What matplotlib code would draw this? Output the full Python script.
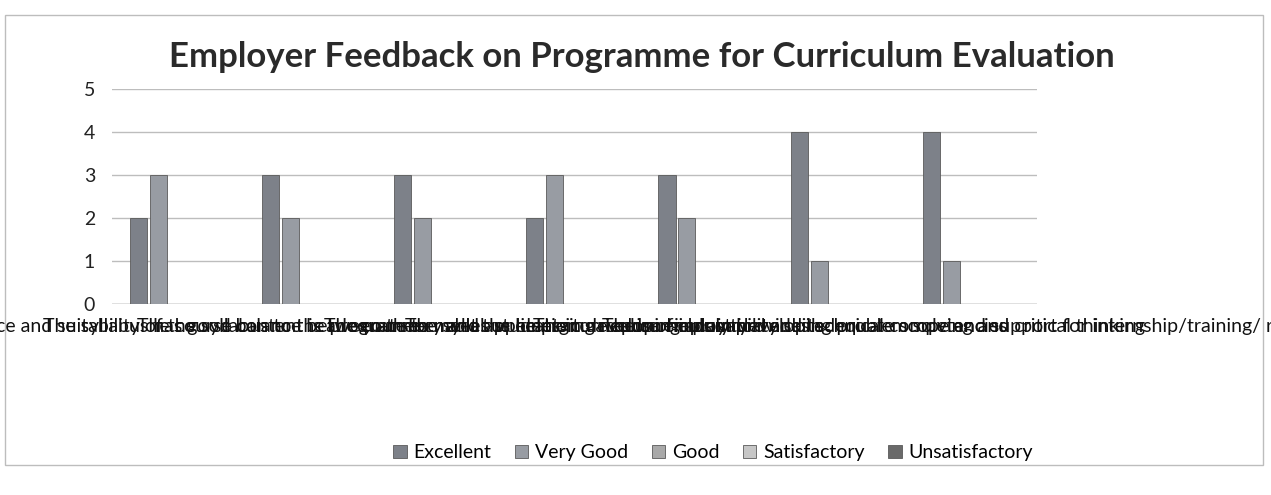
import matplotlib
matplotlib.use("Agg")
import matplotlib.pyplot as plt
import numpy as np
from matplotlib.patches import Rectangle

categories = [
    "Relevance and suitability of the syllabus to the programme",
    "The syllabus has good balance between theory and application",
    "The course content is adequate to meet the emerging needs of industry",
    "The course enables students to acquire employability skills",
    "The syllabus helps in developing analytical and technical competencies",
    "The curriculum helps in developing problem solving and critical thinking",
    "The curriculum provides adequate scope and support for internship/training/ research",
]
series_names = ["Excellent", "Very Good", "Good", "Satisfactory", "Unsatisfactory"]
excellent = [2, 3, 3, 2, 3, 4, 4]
very_good = [3, 2, 2, 3, 2, 1, 1]
good = [0, 0, 0, 0, 0, 0, 0]
satisfactory = [0, 0, 0, 0, 0, 0, 0]
unsatisfactory = [0, 0, 0, 0, 0, 0, 0]
yticks = [0, 1, 2, 3, 4, 5]
title = "Employer Feedback on Programme for Curriculum Evaluation"

colors = ["#7d8189", "#989ca3", "#a9a9a9", "#c6c6c6", "#6a6a6a"]
values = [excellent, very_good, good, satisfactory, unsatisfactory]

plt.rcParams['font.family'] = ['Lato', 'DejaVu Sans']

fig = plt.figure(figsize=(12.71, 4.95), dpi=100)
ax = fig.add_axes([0.088, 0.385, 0.728, 0.435])

x = np.arange(len(categories))
bw = 0.15
for i, (name, vals, c) in enumerate(zip(series_names, values, colors)):
    ax.bar(x + (i - 2) * bw, vals, width=bw * 0.86, color=c, label=name,
           edgecolor='#5a5a5a', linewidth=0.6, zorder=3)

ax.set_ylim(0, 5)
ax.set_xlim(-0.5, len(categories) - 0.5)
ax.set_yticks(yticks)
ax.set_yticklabels([str(t) for t in yticks], fontsize=14, color='#222222')
ax.set_xticks(x)
ax.set_xticklabels(categories, fontsize=14, color='#111111')
ax.tick_params(axis='y', length=0, pad=12)
ax.tick_params(axis='x', length=0, pad=10)
ax.grid(axis='y', color='#bdbdbd', linewidth=1.0, zorder=0)
for s in ax.spines.values():
    s.set_visible(False)
ax.axhline(0, color='#9a9a9a', linewidth=1.0, zorder=2)

fig.text(0.505, 0.885, title, ha='center', va='center', fontsize=25,
         fontweight='bold', color='#2a2a2a')

handles, labels = ax.get_legend_handles_labels()
fig.legend(handles, labels, loc='center', bbox_to_anchor=(0.561, 0.085), ncol=5,
           frameon=False, fontsize=14, handlelength=0.7, handleheight=0.7,
           columnspacing=1.2, handletextpad=0.35)

fig.patches.append(Rectangle((0.004, 0.06), 0.99, 0.91, transform=fig.transFigure,
                             fill=False, edgecolor='#bdbdbd', linewidth=1.0))

fig.savefig("out.png", dpi=100, facecolor='white')
